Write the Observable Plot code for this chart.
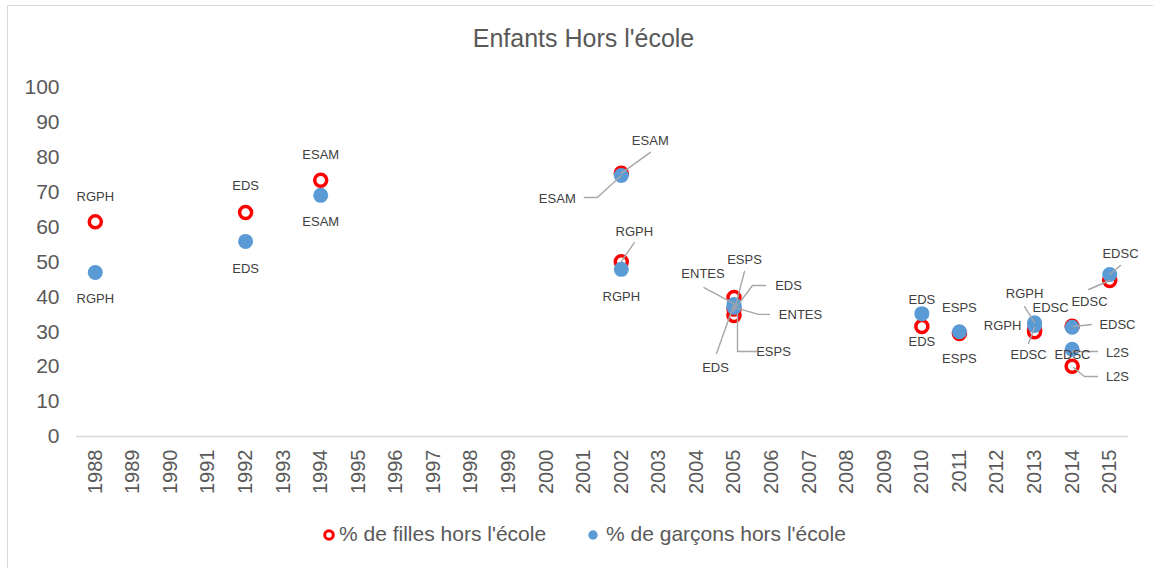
<!DOCTYPE html>
<html>
<head>
<meta charset="utf-8">
<script src="https://cdn.jsdelivr.net/npm/d3@7"></script>
<script src="https://cdn.jsdelivr.net/npm/@observablehq/plot@0.6"></script>
<style>
  html, body { margin: 0; padding: 0; background: #fff; overflow: hidden; }
  #wrap { position: relative; width: 1153px; height: 568px; overflow: hidden; font-family: "Liberation Sans", Arial, sans-serif; }
  #border { position: absolute; left: 7px; top: 5px; width: 1200px; height: 620px; border: 1px solid #d9d9d9; box-sizing: border-box; }
  #title { position: absolute; left: 7px; top: 26px; width: 1153px; text-align: center; font-size: 25px; line-height: 25px; color: #595959; }
  #chart { position: absolute; left: 0; top: 0; }
  .legtext { position: absolute; font-size: 21px; line-height: 21px; color: #595959; white-space: nowrap; }
  .legmark { position: absolute; }
</style>
</head>
<body>
<div id="wrap">
  <div id="border"></div>
  <div id="chart"></div>
  <div id="title">Enfants Hors l'école</div>
  <svg class="legmark" style="left:322px;top:528px" width="14" height="14"><circle cx="7" cy="7" r="4.3" fill="#fff" stroke="#FF0000" stroke-width="3"></circle></svg>
  <div class="legtext" style="left:339px;top:523px">% de filles hors l'école</div>
  <svg class="legmark" style="left:585.5px;top:528px" width="14" height="14"><circle cx="7" cy="7" r="4.7" fill="#5B9BD5"></circle></svg>
  <div class="legtext" style="left:606px;top:523px">% de garçons hors l'école</div>
</div>
<script>
// ---- data ----
const years   = [1988, 1992, 1994, 2002, 2002, 2005, 2005, 2005, 2010, 2011, 2013, 2013, 2014, 2014, 2015];
const surveys = ["RGPH", "EDS", "ESAM", "ESAM", "RGPH", "ENTES", "ESPS", "EDS", "EDS", "ESPS", "RGPH", "EDSC", "EDSC", "L2S", "EDSC"];
const filles  = [61.5, 64.2, 73.4, 75.4, 50.1, 39.8, 34.7, 36.5, 31.5, 29.5, 30.5, 30.0, 31.6, 20.1, 44.7];
const garcons = [47.0, 55.9, 69.1, 74.8, 47.9, 37.0, 37.4, 37.8, 35.2, 30.0, 32.6, 31.8, 31.3, 25.0, 46.4];
const tickYears = d3.range(1988, 2016);
const yTicks = [0, 10, 20, 30, 40, 50, 60, 70, 80, 90, 100];

// ---- label layout (pixel offsets from each point) ----
const fillesLabelOffset = [[0,-25],[0,-27],[0,-26],[29,-33],[13,-30],[-31,-24],[10.5,-56],[54.5,-23.6],[0,15],[0,25],[-32,-4.6],[-6,22.7],[45.3,-1.7],[45.3,10.1],[-20.2,21]];
const fillesLeader = [null,null,null,[[29,-21],[0,0]],[[13,-19],[0,0]],[[-30,-10],[0,6]],[[10.5,-44],[0,-4]],[[31.5,-23.6],[18.5,-23.6],[3,-3]],null,null,null,[[-6,11.7],[0,-4.3]],[[19.3,-1.7],[1.3,0.3]],[[1.3,1.1],[12.3,10.1],[25.3,10.1]],[[-21,9],[0,0]]];
const garconsLabelOffset = [[0,26],[0,27],[0,26],[-64,23],[0,27],[66.5,7],[39.5,45.5],[-18.5,63],[0,-14],[0,-24],[-10,-29],[16,-18],[0.3,28],[45.3,3.3],[10.8,-21]];
const garconsLeader = [null,null,null,[[-37,22],[-24,22],[0,0]],null,[[35.5,7],[24.5,7],[0,0]],[[22.5,45.5],[3.5,45.5],[3.5,8]],[[-17.5,49],[0,0]],null,null,[[-10,-16],[0,0]],null,null,[[0.3,2.3],[25.3,2.3]],[[10.8,-9],[0,0]]];

// ---- plot geometry ----
const W = 1153, H = 568, mL = 76, mR = 25, mT = 87, mB = 132;
const xDom = [1987.5, 2015.5], yDom = [0, 100];
const kx = (W - mL - mR) / (xDom[1] - xDom[0]);
const ky = (H - mT - mB) / (yDom[1] - yDom[0]);

const rows = years.map((year, i) => ({year, survey: surveys[i], filles: filles[i], garcons: garcons[i], i}));

function labelRows(key, offsets) {
  return rows.map(r => ({text: r.survey, x: r.year + offsets[r.i][0] / kx, y: r[key] - offsets[r.i][1] / ky}));
}
function leaderRows(key, leaders) {
  const out = [];
  rows.forEach(r => {
    const L = leaders[r.i];
    if (!L) return;
    L.forEach(p => out.push({id: key + r.i, x: r.year + p[0] / kx, y: r[key] - p[1] / ky}));
  });
  return out;
}

const leaders = leaderRows("filles", fillesLeader).concat(leaderRows("garcons", garconsLeader));

const chart = Plot.plot({
  width: W, height: H,
  marginLeft: mL, marginRight: mR, marginTop: mT, marginBottom: mB,
  style: {background: "transparent", fontFamily: "'Liberation Sans', Arial, sans-serif", color: "#595959", overflow: "visible"},
  x: {domain: xDom, axis: null},
  y: {domain: yDom, axis: null},
  marks: [
    Plot.ruleY([0], {stroke: "#d9d9d9", strokeWidth: 1.3}),
    Plot.axisX({ticks: tickYears, tickFormat: d => String(d), tickRotate: -90, tickSize: 0, tickPadding: 13, fontSize: 20, label: null, fill: "#595959"}),
    Plot.axisY({ticks: yTicks, tickSize: 0, tickPadding: 17, fontSize: 21, label: null, fill: "#595959"}),
    Plot.dot(rows, {x: "year", y: "filles", r: 6, fill: "#fff", stroke: "#FF0000", strokeWidth: 3.5}),
    Plot.dot(rows, {x: "year", y: "garcons", r: 7.5, fill: "#5B9BD5", stroke: "none"}),
    Plot.line(leaders, {x: "x", y: "y", z: "id", stroke: "#a6a6a6", strokeWidth: 1.4}),
    Plot.text(labelRows("filles", fillesLabelOffset), {x: "x", y: "y", text: "text", fontSize: 13, fill: "#404040"}),
    Plot.text(labelRows("garcons", garconsLabelOffset), {x: "x", y: "y", text: "text", fontSize: 13, fill: "#404040"})
  ]
});
document.getElementById("chart").appendChild(chart);
</script>
</body>
</html>
